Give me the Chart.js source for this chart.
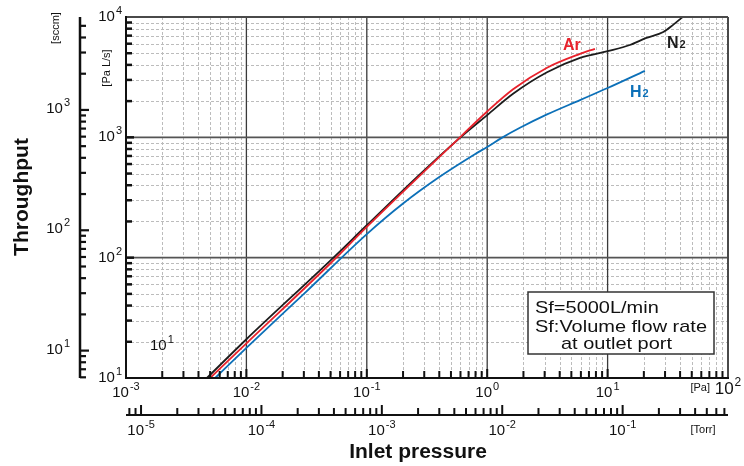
<!DOCTYPE html>
<html>
<head>
<meta charset="utf-8">
<script src="https://cdn.jsdelivr.net/npm/chart.js@4.4.1/dist/chart.umd.min.js"></script>
<style>
  body { margin: 0; background: #fff; }
  #wrap { width: 744px; height: 466px; position: relative; }
</style>
</head>
<body>
<div id="wrap"><canvas id="chart"></canvas></div>
<script>
// inlet pressure [Pa] vs throughput [Pa L/s]
const n2Pressure = [0.0047, 0.01, 0.05, 0.1, 0.28, 0.6, 1.0, 1.64, 3.14, 5.9, 10, 15.3, 21, 29, 35, 42];
const n2Throughput = [10, 21, 95, 186, 500, 1000, 1530, 2300, 3470, 4570, 5200, 5850, 6700, 7500, 8600, 10000];

const arPressure = [0.005, 0.01, 0.0495, 0.1, 0.49, 1.0, 1.64, 3.14, 5.9, 7.85];
const arThroughput = [10, 19.4, 89, 180, 832, 1640, 2510, 3790, 4940, 5440];

const h2Pressure = [0.0055, 0.01, 0.0316, 0.1, 0.2, 0.4, 0.79, 1.0, 1.32, 1.87, 3.14, 5.9, 10, 20.4];
const h2Throughput = [10, 17.8, 52.5, 157, 282, 468, 724, 832, 990, 1200, 1550, 2040, 2570, 3570];

// axis decades (exponents)
const paDecades = [-3, -2, -1, 0, 1, 2];
const throughputDecades = [1, 2, 3, 4];
const sccmDecades = [1, 2, 3];
const torrDecades = [-5, -4, -3, -2, -1];

const noteLines = ["Sf=5000L/min", "Sf:Volume flow rate", "at outlet port"];

const PA_PER_TORR = 133.322;
const PAL_PER_SCCM = 1.689;
const FONT = '"Liberation Sans", Arial, sans-serif';

function toPoints(xs, ys) {
  return xs.map((v, i) => ({ x: v, y: ys[i] }));
}

function logTicks(lo, hi, from, to) {
  let out = [];
  for (let e = from; e <= to; e++) {
    for (let m = 1; m <= 9; m++) {
      let v = m * Math.pow(10, e);
      if (v >= lo * 0.999 && v <= hi * 1.001) out.push({ v: v, major: m === 1 });
    }
  }
  return out;
}

function line(ctx, x1, y1, x2, y2) {
  ctx.beginPath();
  ctx.moveTo(x1, y1);
  ctx.lineTo(x2, y2);
  ctx.stroke();
}

// "10" with a raised exponent
function drawPow(ctx, exp, x, y, size, align) {
  let baseFont = size + "px " + FONT;
  let supFont = Math.round(size * 0.7) + "px " + FONT;
  ctx.font = baseFont;
  let wb = ctx.measureText("10").width;
  ctx.font = supFont;
  let sup = String(exp);
  let ws = ctx.measureText(sup).width;
  let w = wb + ws + 1;
  let left = align === "right" ? x - w : align === "center" ? x - w / 2 : x;
  ctx.textAlign = "left";
  ctx.textBaseline = "middle";
  ctx.font = baseFont;
  ctx.fillText("10", left, y);
  ctx.font = supFont;
  ctx.fillText(sup, left + wb + 1, y - size * 0.4);
}

// text stretched a little wider, like the original's gothic face
function wideText(ctx, text, x, y, stretch) {
  ctx.save();
  ctx.translate(x, y);
  ctx.scale(stretch, 1);
  ctx.fillText(text, 0, 0);
  ctx.restore();
}

const framePlugin = {
  id: "frame",
  beforeDatasetsDraw(chart) {
    let { ctx, chartArea: a, scales } = chart;
    let x = scales.x, y = scales.y;
    ctx.save();
    ctx.fillStyle = "#fff";
    ctx.fillRect(a.left, a.top, a.right - a.left, a.bottom - a.top);

    // minor dashed grid
    ctx.strokeStyle = "#bcbcbc";
    ctx.lineWidth = 1;
    ctx.setLineDash([3, 2]);
    logTicks(x.min, x.max, -3, 1).filter(t => !t.major).forEach(t => {
      let px = Math.round(x.getPixelForValue(t.v)) + 0.5;
      line(ctx, px, a.top, px, a.bottom);
    });
    logTicks(y.min, y.max, 1, 3).filter(t => !t.major).forEach(t => {
      let py = Math.round(y.getPixelForValue(t.v)) + 0.5;
      line(ctx, a.left, py, a.right, py);
    });
    ctx.setLineDash([]);

    // decade lines
    ctx.strokeStyle = "#3a3a3a";
    ctx.lineWidth = 1.3;
    paDecades.slice(1, -1).forEach(e => {
      let px = x.getPixelForValue(Math.pow(10, e));
      line(ctx, px, a.top, px, a.bottom);
    });
    ctx.strokeStyle = "#555";
    ctx.lineWidth = 1.6;
    throughputDecades.slice(1, -1).forEach(e => {
      let py = y.getPixelForValue(Math.pow(10, e));
      line(ctx, a.left, py, a.right, py);
    });
    ctx.restore();
  },
  afterDatasetsDraw(chart) {
    let { ctx, chartArea: a, scales } = chart;
    let x = scales.x, y = scales.y;
    ctx.save();

    // frame
    ctx.lineWidth = 2;
    ctx.strokeStyle = "#4a4a4a";
    line(ctx, a.left, a.top, a.right, a.top);
    line(ctx, a.right, a.top, a.right, a.bottom);
    ctx.strokeStyle = "#111";
    line(ctx, a.left, a.top - 1, a.left, a.bottom + 1);
    line(ctx, a.left - 1, a.bottom, a.right + 1, a.bottom);

    // inner ticks on left and bottom
    ctx.lineWidth = 2.5;
    logTicks(y.min, y.max, 1, 3).forEach(t => {
      let py = y.getPixelForValue(t.v);
      if (py <= a.top + 1 || py >= a.bottom - 1) return;
      line(ctx, a.left, py, a.left + (t.major ? 8 : 6), py);
    });
    ctx.lineWidth = 2;
    logTicks(x.min, x.max, -3, 1).forEach(t => {
      let px = x.getPixelForValue(t.v);
      if (px <= a.left + 1 || px >= a.right - 1) return;
      line(ctx, px, a.bottom, px, a.bottom - (t.major ? 9 : 7));
    });

    ctx.fillStyle = "#111";
    // Pa L/s labels
    throughputDecades.forEach(e => {
      drawPow(ctx, e, 122, y.getPixelForValue(Math.pow(10, e)), 15, "right");
    });
    // Pa labels
    paDecades.slice(0, -1).forEach(e => {
      drawPow(ctx, e, x.getPixelForValue(Math.pow(10, e)), a.bottom + 15, 15, "center");
    });
    drawPow(ctx, 2, x.getPixelForValue(100), a.bottom + 11, 17, "center");
    ctx.font = "11px " + FONT;
    ctx.textAlign = "right";
    ctx.textBaseline = "middle";
    ctx.fillText("[Pa]", 710, a.bottom + 10);

    // sccm axis
    let sx = 80;
    let sTop = y.getPixelForValue(y.max), sBot = y.getPixelForValue(y.min);
    ctx.lineWidth = 2.5;
    line(ctx, sx, sTop, sx, sBot);
    ctx.lineWidth = 2.2;
    logTicks(y.min / PAL_PER_SCCM, y.max / PAL_PER_SCCM, 0, 3).forEach(t => {
      let py = y.getPixelForValue(t.v * PAL_PER_SCCM);
      line(ctx, sx, py, sx + (t.major ? 9 : 6), py);
    });
    sccmDecades.forEach(e => {
      drawPow(ctx, e, 70, y.getPixelForValue(Math.pow(10, e) * PAL_PER_SCCM) - 1, 15, "right");
    });
    drawPow(ctx, 1, 150, 346, 15, "left");

    // Torr axis
    let ty = 415;
    ctx.lineWidth = 2;
    line(ctx, a.left, ty, a.right, ty);
    logTicks(x.min / PA_PER_TORR, x.max / PA_PER_TORR, -6, -1).forEach(t => {
      let px = x.getPixelForValue(t.v * PA_PER_TORR);
      line(ctx, px, ty, px, ty - (t.major ? 10 : 7));
    });
    torrDecades.forEach(e => {
      drawPow(ctx, e, x.getPixelForValue(Math.pow(10, e) * PA_PER_TORR), ty + 16, 15, "center");
    });
    ctx.font = "11px " + FONT;
    ctx.textAlign = "center";
    ctx.fillText("[Torr]", 703, ty + 15);

    // axis titles
    ctx.font = "bold 20px " + FONT;
    ctx.textAlign = "center";
    ctx.textBaseline = "middle";
    wideText(ctx, "Inlet pressure", 418, 452, 1.05);
    ctx.save();
    ctx.translate(22, 197);
    ctx.rotate(-Math.PI / 2);
    wideText(ctx, "Throughput", 0, 0, 1.05);
    ctx.restore();
    ctx.font = "11px " + FONT;
    ctx.save();
    ctx.translate(56, 28);
    ctx.rotate(-Math.PI / 2);
    ctx.fillText("[sccm]", 0, 0);
    ctx.restore();
    ctx.save();
    ctx.translate(107, 68);
    ctx.rotate(-Math.PI / 2);
    ctx.fillText("[Pa L/s]", 0, 0);
    ctx.restore();

    // series labels
    ctx.textAlign = "left";
    ctx.textBaseline = "alphabetic";
    chart.data.datasets.forEach(ds => {
      ctx.fillStyle = ds.borderColor;
      ctx.font = "bold 16px " + FONT;
      ctx.fillText(ds.tag, ds.tagX, ds.tagY);
      let w = ctx.measureText(ds.tag).width;
      if (ds.sub) {
        ctx.font = "bold 11px " + FONT;
        ctx.fillText(ds.sub, ds.tagX + w + 1, ds.tagY);
      }
    });

    // note box
    ctx.fillStyle = "#fff";
    ctx.fillRect(528, 292, 186, 62);
    ctx.strokeStyle = "#333";
    ctx.lineWidth = 1.5;
    ctx.strokeRect(528, 292, 186, 62);
    ctx.fillStyle = "#111";
    ctx.font = "17px " + FONT;
    let stretch = 172 / ctx.measureText(noteLines[1]).width;
    wideText(ctx, noteLines[0], 535, 313, stretch);
    wideText(ctx, noteLines[1], 535, 332, stretch);
    wideText(ctx, noteLines[2], 561, 349, stretch);

    ctx.restore();
  }
};

const lineStyle = {
  showLine: true,
  pointRadius: 0,
  borderWidth: 1.8,
  cubicInterpolationMode: "monotone",
  fill: false
};

new Chart(document.getElementById("chart"), {
  type: "scatter",
  data: {
    datasets: [
      Object.assign({ label: "Ar", tag: "Ar", sub: "", tagX: 563, tagY: 50,
        data: toPoints(arPressure, arThroughput), borderColor: "#e8222c" }, lineStyle),
      Object.assign({ label: "N2", tag: "N", sub: "2", tagX: 667, tagY: 48,
        data: toPoints(n2Pressure, n2Throughput), borderColor: "#1c1c1c" }, lineStyle),
      Object.assign({ label: "H2", tag: "H", sub: "2", tagX: 630, tagY: 97,
        data: toPoints(h2Pressure, h2Throughput), borderColor: "#0c70b8" }, lineStyle)
    ]
  },
  options: {
    responsive: true,
    maintainAspectRatio: false,
    animation: false,
    events: [],
    layout: { padding: { left: 126, top: 17, right: 16, bottom: 88 } },
    plugins: { legend: { display: false }, tooltip: { enabled: false } },
    scales: {
      x: { type: "logarithmic", min: 1e-3, max: 1e2, display: false },
      y: { type: "logarithmic", min: 10, max: 1e4, display: false }
    }
  },
  plugins: [framePlugin]
});
</script>
</body>
</html>
